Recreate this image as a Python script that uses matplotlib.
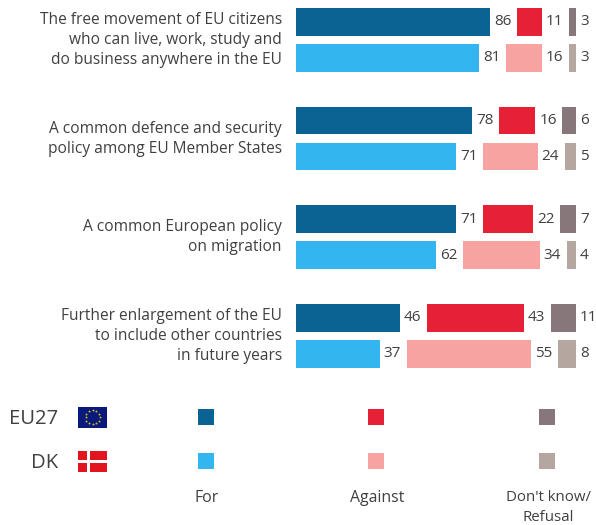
import numpy as np
import matplotlib
matplotlib.use('Agg')
import matplotlib.pyplot as plt
from matplotlib.patches import Rectangle

W, H = 596, 525

questions = [
    'The free movement of EU citizens\nwho can live, work, study and\ndo business anywhere in the EU',
    'A common defence and security\npolicy among EU Member States',
    'A common European policy\non migration',
    'Further enlargement of the EU\nto include other countries\nin future years',
]
eu27_for = [86, 78, 71, 46]
eu27_against = [11, 16, 22, 43]
eu27_dk = [3, 6, 7, 11]
dk_for = [81, 71, 62, 37]
dk_against = [16, 24, 34, 55]
dk_dk = [3, 5, 4, 8]

categories = ['For', 'Against', "Don't know/\nRefusal"]
regions = ['EU27', 'DK']

eu27_colors = ['#0b6394', '#e72135', '#87767a']
dk_colors = ['#33b6f0', '#f7a3a1', '#b5a79f']
text_color = '#404040'

plt.rcParams['font.family'] = ['Open Sans', 'DejaVu Sans']

fig = plt.figure(figsize=(W / 100, H / 100), dpi=100)

# overlay in pixel units for the key, the flags and the question labels
bg = fig.add_axes([0, 0, 1, 1])
bg.set_xlim(0, W)
bg.set_ylim(H, 0)
bg.axis('off')

# bars: x runs 0-124, i.e. 100 percent plus a gap of 12 between the three segments
GAP = 12
ax = fig.add_axes([296 / W, 0, 280 / W, 1])
ax.set_xlim(0, 100 + 2 * GAP)
ax.set_ylim(H, 0)
ax.axis('off')

row_top = np.array([8, 106.7, 205.4, 304])
BAR_H = 27.5


def draw_row(y, a, b, c, colors):
    left = 0
    for val, col in zip((a, b, c), colors):
        ax.barh(y, val, left=left, height=BAR_H, color=col, align='edge')
        ax.annotate(str(val), (left + val, y + BAR_H / 2), xytext=(2.8, 0),
                    textcoords='offset points', va='center', ha='left',
                    fontsize=11, color=text_color)
        left += val + GAP


for i in range(len(questions)):
    draw_row(row_top[i], eu27_for[i], eu27_against[i], eu27_dk[i], eu27_colors)
    draw_row(row_top[i] + 36, dk_for[i], dk_against[i], dk_dk[i], dk_colors)
    bg.text(282, row_top[i] + 32, questions[i], ha='right', va='center',
            fontsize=11.2, color=text_color, linespacing=1.33)

# key
key_x = [198, 368, 539]
key_y = [408.5, 453]
for x, ce, cd in zip(key_x, eu27_colors, dk_colors):
    bg.add_patch(Rectangle((x, key_y[0]), 16, 16, color=ce, lw=0))
    bg.add_patch(Rectangle((x, key_y[1]), 16, 16, color=cd, lw=0))

bg.text(207, 498, categories[0], ha='center', va='center', fontsize=11.4, color=text_color)
bg.text(377, 498, categories[1], ha='center', va='center', fontsize=11.4, color=text_color)
bg.text(548, 507.5, categories[2], ha='center', va='center', fontsize=10.8,
        color=text_color, linespacing=1.4)

bg.text(58, 419, regions[0], ha='right', va='center', fontsize=14.6, color=text_color)
bg.text(58, 463, regions[1], ha='right', va='center', fontsize=14.6, color=text_color)

# EU flag
bg.add_patch(Rectangle((78, 406.5), 29, 21, color='#0a1a7a', lw=0))
ang = np.arange(12) * np.pi / 6
bg.scatter(92.5 + 7 * np.cos(ang), 417 + 7 * np.sin(ang), s=2, marker='*',
           color='#d8c020', linewidths=0.3)

# Danish flag
bg.add_patch(Rectangle((78, 451), 29, 21, color='#e2141e', lw=0))
bg.add_patch(Rectangle((87, 451), 2.8, 21, color='white', lw=0))
bg.add_patch(Rectangle((78, 460), 29, 2.8, color='white', lw=0))

fig.savefig('out.png', dpi=100)
